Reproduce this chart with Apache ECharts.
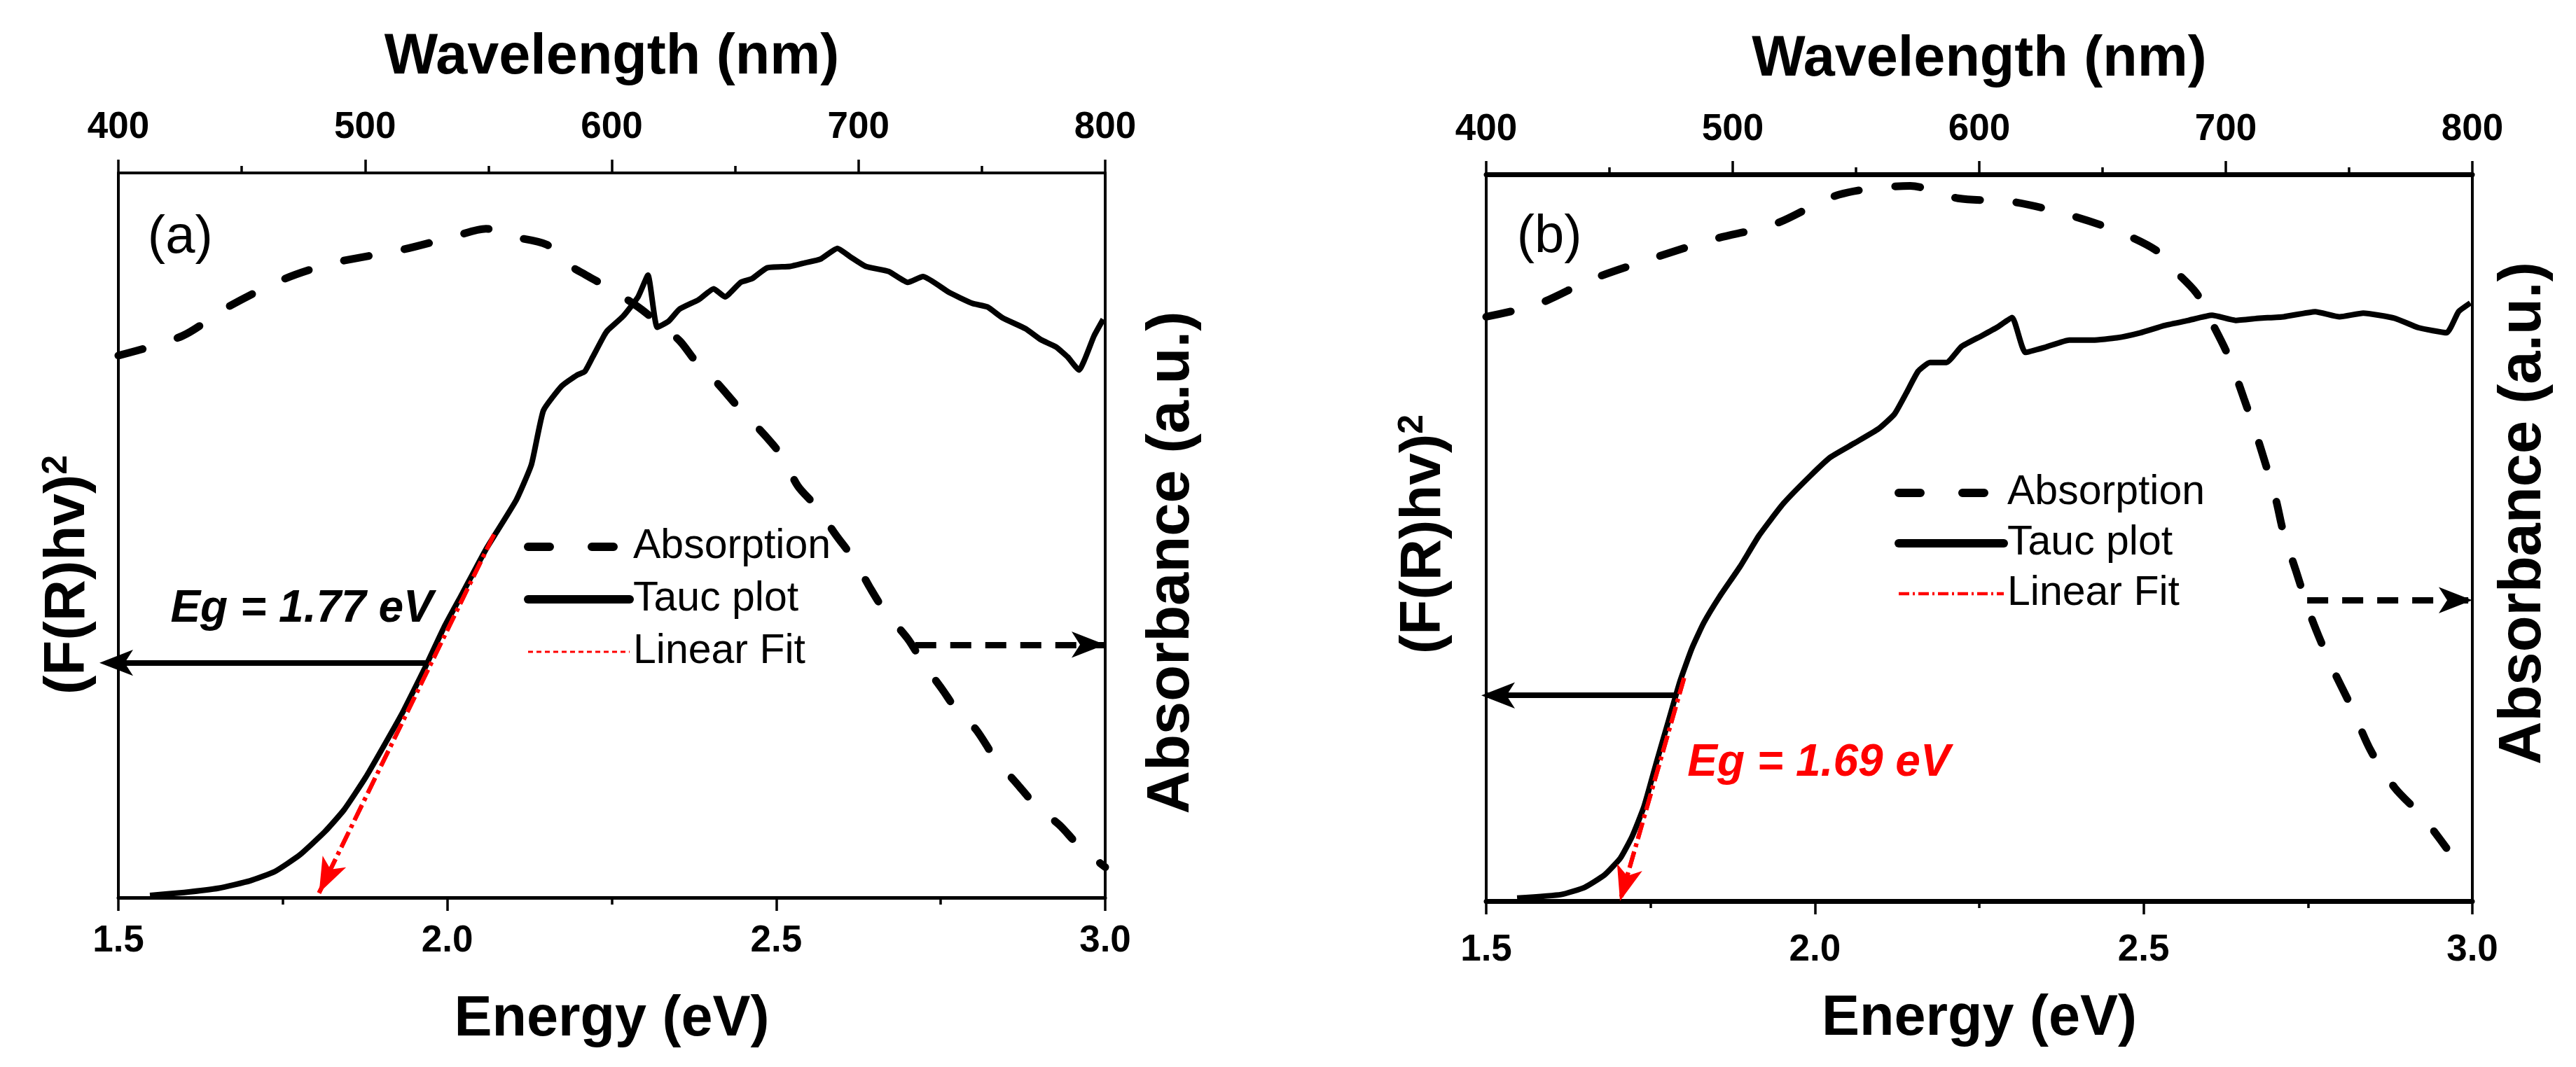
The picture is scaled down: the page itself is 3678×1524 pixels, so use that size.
<!DOCTYPE html>
<html>
<head>
<meta charset="utf-8">
<script src="https://cdn.jsdelivr.net/npm/echarts@6/dist/echarts.min.js"></script>
<style>
html, body { margin: 0; padding: 0; background: #fff; }
#chart { width: 3678px; height: 1524px; }
</style>
</head>
<body>
<div id="chart"></div>
<script>
// ---- panel (a) ----
var energyA = [1.548, 1.6, 1.653, 1.7, 1.738, 1.776, 1.814, 1.843, 1.876, 1.909, 1.933, 1.966, 1.995, 2.023, 2.059, 2.105, 2.128, 2.146, 2.174, 2.197, 2.209, 2.221, 2.238, 2.244, 2.267, 2.29, 2.305, 2.319, 2.336, 2.353, 2.382, 2.405, 2.422, 2.446, 2.463, 2.486, 2.521, 2.544, 2.567, 2.593, 2.613, 2.636, 2.671, 2.7, 2.723, 2.763, 2.798, 2.821, 2.844, 2.879, 2.902, 2.925, 2.943, 2.96, 2.983, 2.997];
var taucA = [0.3, 0.7, 1.3, 2.3, 3.6, 5.9, 9.1, 12.1, 16.6, 21.8, 25.7, 31.7, 37.3, 42, 48.1, 54.9, 59.8, 67.2, 70.6, 72.1, 72.6, 74.6, 77.5, 78.3, 80.2, 82.9, 85.9, 78.7, 79.5, 81.2, 82.5, 84, 82.9, 84.9, 85.4, 86.9, 87.1, 87.6, 88.1, 89.6, 88.4, 87.1, 86.4, 84.9, 85.7, 83.5, 82, 81.5, 80, 78.5, 77, 76, 74.6, 72.8, 77.5, 79.8];
var waveA = [400, 425.9, 444.4, 467.5, 487.5, 515, 536.8, 549, 558.3, 573.7, 579.9, 590.6, 598.4, 610.7, 619.9, 627.6, 633.8, 643, 650.7, 661.5, 669.2, 675.4, 683, 690.7, 698.3, 704.6, 710.7, 720, 726.1, 733.8, 740, 747.6, 755.4, 764.5, 772.2, 781.5, 789.2, 800];
var absA = [74.8, 77.5, 81.5, 85.4, 87.6, 89.4, 91.3, 92.3, 91.3, 90.1, 87.9, 85.7, 84.2, 81.5, 79, 76.8, 74.1, 70.9, 67.9, 64, 60.8, 56.8, 53.9, 50.1, 46.6, 42.8, 39.5, 35.7, 32.4, 28.8, 25.8, 23.2, 19.2, 15.6, 12.6, 10, 7.2, 4.2];
var fitA = [[2.071, 50.1], [1.805, 0.64]];
var egArrowA = [[1.97, 32.4], [1.5, 32.4]];
var absArrowA = [[723, 34.9], [800, 34.9]];
var egTextA = 'Eg = 1.77 eV';
var egPosA = [1.779, 39.8];
var tagPosA = [1.594, 91.0];

// ---- panel (b) ----
var energyB = [1.547, 1.614, 1.65, 1.68, 1.704, 1.722, 1.74, 1.759, 1.777, 1.795, 1.813, 1.831, 1.855, 1.886, 1.915, 1.952, 1.994, 2.024, 2.06, 2.097, 2.121, 2.139, 2.157, 2.175, 2.2, 2.223, 2.254, 2.278, 2.3, 2.32, 2.35, 2.387, 2.423, 2.459, 2.495, 2.532, 2.568, 2.604, 2.64, 2.676, 2.713, 2.761, 2.798, 2.834, 2.882, 2.918, 2.961, 2.979, 2.997];
var taucB = [0.4, 0.9, 1.9, 3.6, 5.9, 8.9, 13, 19.1, 24.7, 30.3, 34.8, 38.3, 41.9, 46, 50.3, 54.7, 58.6, 61.1, 63, 65, 67, 69.9, 72.9, 74.1, 74.1, 76.3, 77.8, 79, 80.3, 75.5, 76.2, 77.2, 77.2, 77.5, 78.2, 79.2, 79.9, 80.6, 79.9, 80.2, 80.4, 81.1, 80.4, 80.9, 80.2, 78.9, 78.2, 81.1, 82.3];
var waveB = [400, 420.7, 443.2, 469, 491.5, 517.3, 543.1, 572, 591.4, 613.9, 636.5, 655.8, 671.9, 678.3, 688, 692.8, 700.9, 707.3, 713.7, 720.2, 723.4, 728.3, 734.7, 742.8, 750.8, 758.8, 768.5, 779.8, 789.5];
var absB = [80.4, 82.1, 85.6, 88.6, 91, 93.2, 97.2, 98.4, 96.7, 96.2, 94.4, 92.2, 89.5, 87.1, 83.7, 80.6, 75.1, 69.2, 62.8, 55.4, 50.7, 45.6, 39, 32.4, 26.8, 20.7, 15.6, 11.6, 7.3];
var fitB = [[1.801, 30.7], [1.7035, 0]];
var egArrowB = [[1.789, 28.3], [1.5, 28.3]];
var absArrowB = [[733, 41.4], [800, 41.4]];
var egTextB = 'Eg = 1.69 eV';
var egPosB = [2.006, 18.9];
var tagPosB = [1.596, 91.3];

// axis ranges [min, max, interval]
var energyRange = [1.5, 3.0, 0.5];
var waveRange = [400, 800, 100];

var FONT = "'Liberation Sans', Arial, sans-serif";
var RED = '#ff0000';

function pairs(xs, ys) {
    return xs.map(function (x, i) { return [x, ys[i]]; });
}

function xAx(grid, pos, range, lineW, margin, name, nameGap) {
    return {
        type: 'value', gridIndex: grid, position: pos,
        min: range[0], max: range[1], interval: range[2],
        axisLine: { show: true, onZero: false, lineStyle: { color: '#000', width: lineW } },
        axisTick: { show: true, length: 19, lineStyle: { color: '#000', width: 3.5 } },
        minorTick: { show: true, splitNumber: 2, length: 10, lineStyle: { color: '#000', width: 3.5 } },
        splitLine: { show: false }, minorSplitLine: { show: false },
        axisLabel: {
            margin: margin, fontSize: 53, fontWeight: 'bold', fontFamily: FONT, color: '#000',
            formatter: function (v) { return range[2] < 1 ? v.toFixed(1) : String(v); }
        },
        name: name, nameLocation: 'middle', nameGap: nameGap,
        nameTextStyle: { fontSize: 81, fontWeight: 'bold', fontFamily: FONT, color: '#000' }
    };
}

function yAx(grid, pos, name, nameGap, nameStyle) {
    return {
        type: 'value', gridIndex: grid, position: pos, min: 0, max: 100,
        axisLine: { show: true, onZero: false, lineStyle: { color: '#000', width: 4 } },
        axisTick: { show: false }, axisLabel: { show: false }, splitLine: { show: false },
        name: name, nameLocation: 'middle', nameRotate: 90, nameGap: nameGap,
        nameTextStyle: nameStyle
    };
}

function leftName(pad) {
    return {
        color: '#000', padding: pad,
        rich: {
            m: { fontSize: 82, fontWeight: 'bold', fontFamily: FONT, color: '#000' },
            s: { fontSize: 50, fontWeight: 'bold', fontFamily: FONT, color: '#000', verticalAlign: 'top' }
        }
    };
}
function rightName(pad) {
    return { fontSize: 85, fontWeight: 'bold', fontFamily: FONT, color: '#000', padding: pad };
}

// line with an arrow head at its second point; push moves the head past the point
function arrowLine(coords, color, width, dash, size, push) {
    return {
        silent: true, animation: false,
        symbol: ['none', 'none'],
        label: { show: false },
        lineStyle: { color: color, width: width, type: dash, opacity: 1 },
        emphasis: { disabled: true },
        data: [[
            { coord: coords[0], symbol: 'none' },
            { coord: coords[1], symbol: 'arrow', symbolSize: size, symbolOffset: [0, -(push || 0)] }
        ]]
    };
}

function textMarks(items) {
    return {
        silent: true, animation: false,
        symbol: 'circle', symbolSize: 1,
        itemStyle: { color: 'rgba(0,0,0,0)' },
        data: items.map(function (it) {
            return {
                coord: it.pos,
                label: {
                    show: true, position: 'inside', formatter: it.text,
                    fontSize: it.size, fontWeight: it.weight, fontStyle: it.style || 'normal',
                    fontFamily: FONT, color: it.color
                }
            };
        })
    };
}

var absDash = [36, 52];
var fitDash = [24, 7, 5, 7];

function panelSeries(g, tauc, abs, fit, egArrow, absArrow, egText, egPos, egColor, tag, tagPos, push) {
    return [
        {
            name: 'Absorption', type: 'line', xAxisIndex: g * 2 + 1, yAxisIndex: g * 2 + 1,
            data: abs, symbol: 'none', smooth: 0.3, clip: false, z: 3,
            lineStyle: { color: '#000', width: 11, type: absDash, cap: 'round' },
            itemStyle: { color: '#000' },
            markLine: arrowLine(absArrow, '#000', 9, [30, 20], [28, 48], 0)
        },
        {
            name: 'Tauc plot', type: 'line', xAxisIndex: g * 2, yAxisIndex: g * 2,
            data: tauc, symbol: 'none', smooth: 0.15, clip: false, z: 4,
            lineStyle: { color: '#000', width: 8, join: 'round' },
            itemStyle: { color: '#000' },
            markLine: arrowLine(egArrow, '#000', 8, 'solid', [28, 48], push),
            markPoint: textMarks([
                { pos: egPos, text: egText, size: 64, weight: 'bold', style: 'italic', color: egColor },
                { pos: tagPos, text: tag, size: 76, weight: 'normal', color: '#000' }
            ])
        },
        {
            name: 'Linear Fit', type: 'line', xAxisIndex: g * 2, yAxisIndex: g * 2,
            data: fit, symbol: 'none', clip: false, z: 5,
            lineStyle: { color: RED, width: 6, type: fitDash },
            itemStyle: { color: RED },
            markLine: arrowLine(fit, RED, 6, fitDash, [28, 50], 0)
        }
    ];
}

function legendFor(left, top, itemWidth, gap, fitStyle) {
    return {
        orient: 'vertical', left: left, top: top, padding: 0,
        itemWidth: itemWidth, itemHeight: 20, itemGap: gap, selectedMode: false,
        textStyle: { fontSize: 59, lineHeight: 68, fontFamily: FONT, color: '#000' },
        data: [
            { name: 'Absorption', itemStyle: { color: 'rgba(0,0,0,0)', borderWidth: 0 },
              lineStyle: { color: '#000', width: 12, type: [31, 60], cap: 'round' } },
            { name: 'Tauc plot', itemStyle: { color: 'rgba(0,0,0,0)', borderWidth: 0 },
              lineStyle: { color: '#000', width: 12, type: 'solid', cap: 'round' } },
            { name: 'Linear Fit', itemStyle: { color: 'rgba(0,0,0,0)', borderWidth: 0 },
              lineStyle: fitStyle }
        ]
    };
}

var chart = echarts.init(document.getElementById('chart'), null, { renderer: 'canvas', devicePixelRatio: 1 });

var option = {
    backgroundColor: '#fff',
    animation: false,
    grid: [
        { left: 169, top: 247, width: 1409, height: 1035, outerBoundsMode: 'none' },
        { left: 2122, top: 249, width: 1408, height: 1038, outerBoundsMode: 'none' }
    ],
    xAxis: [
        xAx(0, 'bottom', energyRange, 5, 36, 'Energy (eV)', 134),
        xAx(0, 'top', waveRange, 4, 38, 'Wavelength (nm)', 124),
        xAx(1, 'bottom', energyRange, 7, 44, 'Energy (eV)', 128),
        xAx(1, 'top', waveRange, 7, 37, 'Wavelength (nm)', 123)
    ],
    yAxis: [
        yAx(0, 'left', '{m|(F(R)hv)}{s|2}', 31, leftName([0, 113, 0, 0])),
        yAx(0, 'right', 'Absorbance (a.u.)', 53, rightName([0, 78, 0, 0])),
        yAx(1, 'left', '{m|(F(R)hv)}{s|2}', 48, leftName([0, 0, 0, 10])),
        yAx(1, 'right', 'Absorbance (a.u.)', 31, rightName([0, 0, 0, 70]))
    ],
    legend: [
        legendFor(748, 747, 145, 7, { color: RED, width: 3, type: [7, 5] }),
        legendFor(2705, 670, 150, 4, { color: RED, width: 4.5, type: [15, 5, 3, 5] })
    ],
    series: []
        .concat(panelSeries(0, pairs(energyA, taucA), pairs(waveA, absA), fitA, egArrowA, absArrowA, egTextA, egPosA, '#000', '(a)', tagPosA, 27))
        .concat(panelSeries(1, pairs(energyB, taucB), pairs(waveB, absB), fitB, egArrowB, absArrowB, egTextB, egPosB, RED, '(b)', tagPosB, 7))
};

chart.setOption(option);
</script>
</body>
</html>
